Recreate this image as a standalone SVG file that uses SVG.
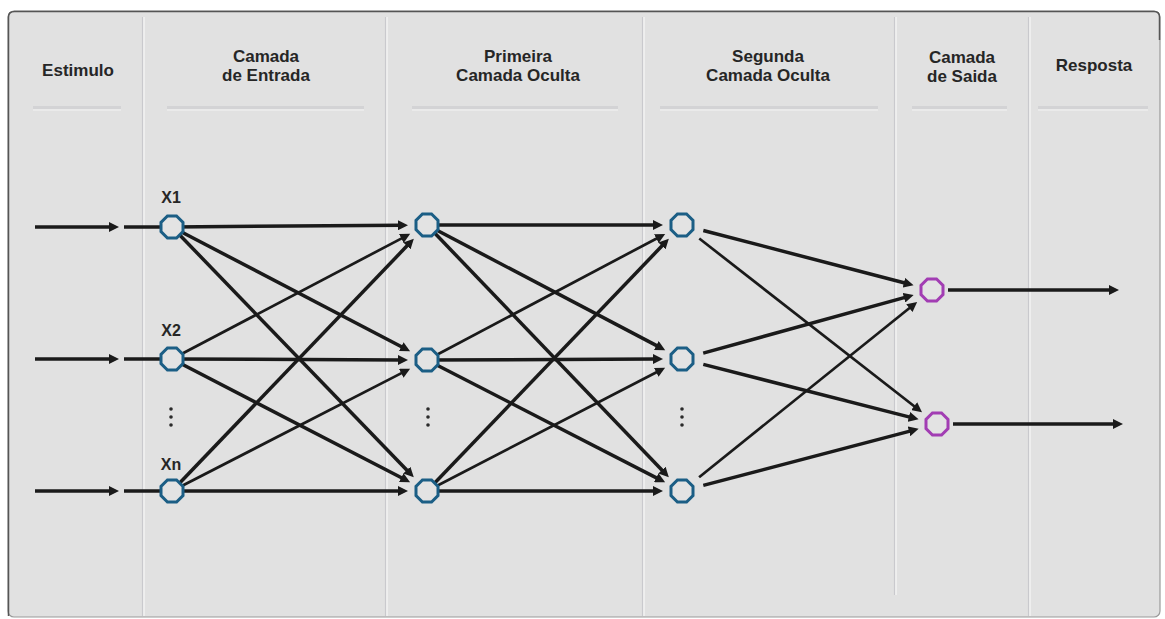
<svg xmlns="http://www.w3.org/2000/svg" xmlns:xlink="http://www.w3.org/1999/xlink" width="1165" height="619" viewBox="0 0 1165 619">
<style>
.hdr{font-family:"Liberation Sans",Arial,sans-serif;font-weight:bold;font-size:17px;fill:#262626;text-anchor:middle}
.lbl{font-family:"Liberation Sans",Arial,sans-serif;font-weight:bold;font-size:16px;fill:#262626;text-anchor:middle}
.sepA{stroke:#c9c9cd;stroke-width:1.2}
.sepB{stroke:#f6f6f6;stroke-width:1.2}
.ul{fill:#d3d3d5}
.ulw{stroke:#f4f4f4;stroke-width:1.2}
.c{stroke:#1a1a1a;stroke-width:3.5;fill:none;marker-end:url(#ah)}
.ct{stroke:#1a1a1a;stroke-width:2.7;fill:none;marker-end:url(#ah)}
.seg{stroke:#1a1a1a;stroke-width:3.5}
.nb{fill:#e3e3e3;stroke:#1b5e85;stroke-width:3}
.np{fill:#e3e3e3;stroke:#a23db3;stroke-width:3}
.dot{fill:#2a2a2a}
</style>
<defs>
<marker id="ah" markerUnits="userSpaceOnUse" markerWidth="11" markerHeight="10" refX="3" refY="5" orient="auto">
<path d="M0,0 L10,5 L0,10 z" fill="#1a1a1a"/>
</marker>
<polygon id="oct" points="4.56,-11 11,-4.56 11,4.56 4.56,11 -4.56,11 -11,4.56 -11,-4.56 -4.56,-11"/>
</defs>
<rect x="0" y="0" width="1165" height="619" fill="#ffffff"/>
<g id="panel">
<rect x="8" y="11" width="1152" height="606" rx="6" fill="#e1e1e1" stroke="#9a9a9a" stroke-width="1.2"/>
<path d="M8.5,616 V17 Q8.5,11.5 14.5,11.5 H1154 Q1159.5,11.5 1159.5,17 V40" fill="none" stroke="#555" stroke-width="1.5"/>
<line class="sepA" x1="142.5" y1="17" x2="142.5" y2="616"/><line class="sepB" x1="144" y1="17" x2="144" y2="616"/>
<line class="sepA" x1="385.5" y1="17" x2="385.5" y2="616"/><line class="sepB" x1="387" y1="17" x2="387" y2="616"/>
<line class="sepA" x1="642.5" y1="17" x2="642.5" y2="616"/><line class="sepB" x1="644" y1="17" x2="644" y2="616"/>
<line class="sepA" x1="894.5" y1="17" x2="894.5" y2="595"/><line class="sepB" x1="896" y1="17" x2="896" y2="595"/>
<line class="sepA" x1="1028.5" y1="17" x2="1028.5" y2="616"/><line class="sepB" x1="1030" y1="17" x2="1030" y2="616"/>
<rect class="ul" x="33" y="106" width="88" height="3"/><line class="ulw" x1="33" y1="110" x2="121" y2="110"/>
<rect class="ul" x="167" y="106" width="197" height="3"/><line class="ulw" x1="167" y1="110" x2="364" y2="110"/>
<rect class="ul" x="412" y="106" width="206" height="3"/><line class="ulw" x1="412" y1="110" x2="618" y2="110"/>
<rect class="ul" x="660" y="106" width="218" height="3"/><line class="ulw" x1="660" y1="110" x2="878" y2="110"/>
<rect class="ul" x="912" y="106" width="95" height="3"/><line class="ulw" x1="912" y1="110" x2="1007" y2="110"/>
<rect class="ul" x="1038" y="106" width="110" height="3"/><line class="ulw" x1="1038" y1="110" x2="1148" y2="110"/>
</g>
<g id="headers">
<text class="hdr" x="78" y="76">Estimulo</text>
<text class="hdr" x="266" y="62">Camada</text>
<text class="hdr" x="266" y="81">de Entrada</text>
<text class="hdr" x="518" y="62">Primeira</text>
<text class="hdr" x="518" y="81">Camada Oculta</text>
<text class="hdr" x="768" y="62">Segunda</text>
<text class="hdr" x="768" y="81">Camada Oculta</text>
<text class="hdr" x="962" y="63">Camada</text>
<text class="hdr" x="962" y="82">de Saida</text>
<text class="hdr" x="1094" y="71">Resposta</text>
</g>
<g id="connectors">
<line class="c" x1="35" y1="227" x2="112" y2="227"/><line class="seg" x1="124" y1="227" x2="162" y2="227"/>
<line class="c" x1="35" y1="359" x2="112" y2="359"/><line class="seg" x1="124" y1="359" x2="162" y2="359"/>
<line class="c" x1="35" y1="491" x2="112" y2="491"/><line class="seg" x1="124" y1="491" x2="162" y2="491"/>
<line class="c" x1="172" y1="227" x2="401" y2="225.2"/>
<line class="c" x1="172" y1="227" x2="403.9" y2="348"/>
<line class="c" x1="172" y1="227" x2="408.9" y2="472.3"/>
<line class="ct" x1="172" y1="359" x2="404" y2="237.1"/>
<line class="c" x1="172" y1="359" x2="401" y2="360"/>
<line class="c" x1="172" y1="359" x2="403.9" y2="479"/>
<line class="c" x1="172" y1="491" x2="409" y2="243.8"/>
<line class="ct" x1="172" y1="491" x2="403.9" y2="371.9"/>
<line class="c" x1="172" y1="491" x2="401" y2="491"/>
<line class="c" x1="427" y1="225" x2="656" y2="225"/>
<line class="c" x1="427" y1="225" x2="659" y2="346.9"/>
<line class="c" x1="427" y1="225" x2="664" y2="472.2"/>
<line class="ct" x1="427" y1="360" x2="659" y2="237.2"/>
<line class="c" x1="427" y1="360" x2="656" y2="359"/>
<line class="c" x1="427" y1="360" x2="658.9" y2="479.1"/>
<line class="c" x1="427" y1="491" x2="664" y2="243.8"/>
<line class="ct" x1="427" y1="491" x2="658.9" y2="371"/>
<line class="c" x1="427" y1="491" x2="656" y2="491"/>
<line class="c" x1="703.3" y1="230.5" x2="906.8" y2="283.5"/>
<line class="ct" x1="699.3" y1="238.5" x2="916.5" y2="408"/>
<line class="c" x1="703.2" y1="353.1" x2="906.9" y2="296.9"/>
<line class="c" x1="703.3" y1="364.4" x2="911.8" y2="417.6"/>
<line class="ct" x1="699.1" y1="477.2" x2="911.7" y2="306.3"/>
<line class="c" x1="703.3" y1="485.4" x2="911.9" y2="430.6"/>
<line class="c" x1="948" y1="290" x2="1112" y2="290"/>
<line class="c" x1="953" y1="424" x2="1116" y2="424"/>
</g>
<g id="node-x1"><use xlink:href="#oct" href="#oct" class="nb" x="172" y="227"/><text class="lbl" x="171" y="203">X1</text></g>
<g id="node-x2"><use xlink:href="#oct" href="#oct" class="nb" x="172" y="359"/><text class="lbl" x="171" y="336">X2</text></g>
<g id="node-xn"><use xlink:href="#oct" href="#oct" class="nb" x="172" y="491"/><text class="lbl" x="171" y="470">Xn</text></g>
<g id="node-h1a"><use xlink:href="#oct" href="#oct" class="nb" x="427" y="225"/></g>
<g id="node-h1b"><use xlink:href="#oct" href="#oct" class="nb" x="427" y="360"/></g>
<g id="node-h1c"><use xlink:href="#oct" href="#oct" class="nb" x="427" y="491"/></g>
<g id="node-h2a"><use xlink:href="#oct" href="#oct" class="nb" x="682" y="225"/></g>
<g id="node-h2b"><use xlink:href="#oct" href="#oct" class="nb" x="682" y="359"/></g>
<g id="node-h2c"><use xlink:href="#oct" href="#oct" class="nb" x="682" y="491"/></g>
<g id="node-o1"><use xlink:href="#oct" href="#oct" class="np" x="932" y="290"/></g>
<g id="node-o2"><use xlink:href="#oct" href="#oct" class="np" x="937" y="424"/></g>
<g id="ellipsis">
<circle class="dot" cx="171" cy="409" r="1.8"/><circle class="dot" cx="171" cy="417" r="1.8"/><circle class="dot" cx="171" cy="425" r="1.8"/>
<circle class="dot" cx="428" cy="409" r="1.8"/><circle class="dot" cx="428" cy="417" r="1.8"/><circle class="dot" cx="428" cy="425" r="1.8"/>
<circle class="dot" cx="682" cy="409" r="1.8"/><circle class="dot" cx="682" cy="417" r="1.8"/><circle class="dot" cx="682" cy="425" r="1.8"/>
</g>
</svg>
